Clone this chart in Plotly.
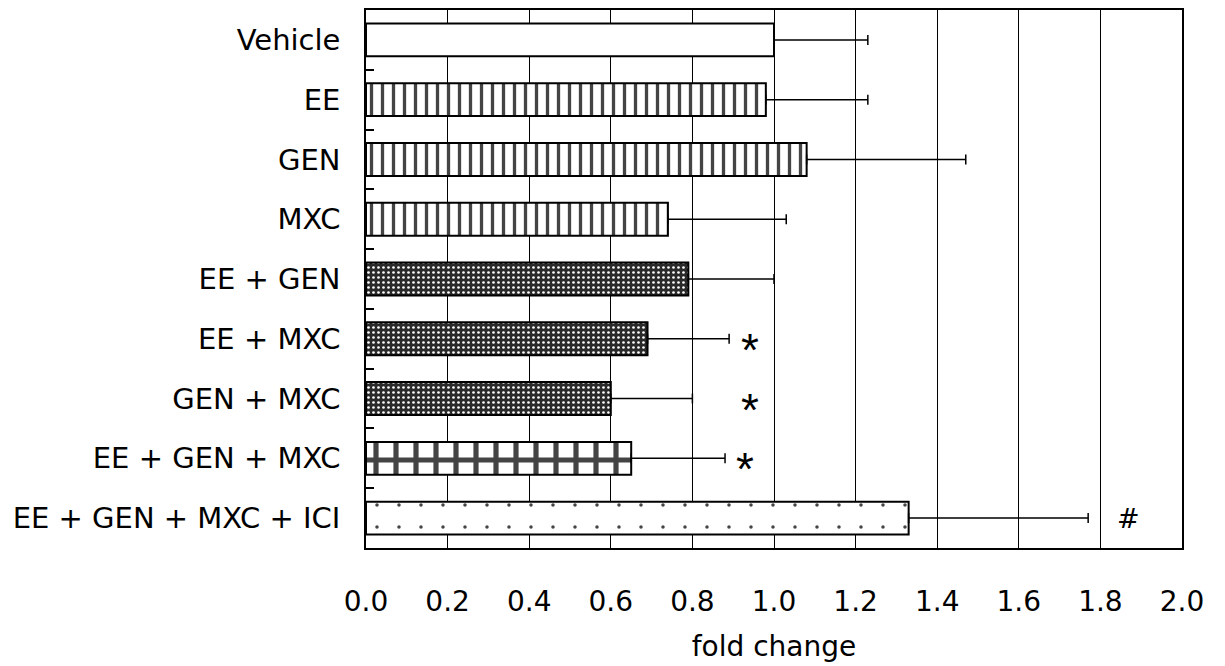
import plotly.graph_objects as go

categories = ["Vehicle", "EE", "GEN", "MXC", "EE + GEN", "EE + MXC",
              "GEN + MXC", "EE + GEN + MXC", "EE + GEN + MXC + ICI"]
fold_change = [1.00, 0.98, 1.08, 0.74, 0.79, 0.69, 0.60, 0.65, 1.33]
error_plus = [0.23, 0.25, 0.39, 0.29, 0.21, 0.20, 0.20, 0.23, 0.44]
x_ticks = [0.0, 0.2, 0.4, 0.6, 0.8, 1.0, 1.2, 1.4, 1.6, 1.8, 2.0]
star_rows = ["EE + MXC", "GEN + MXC", "EE + GEN + MXC"]
star_x = [0.94, 0.94, 0.93]
hash_row = "EE + GEN + MXC + ICI"
hash_x = 1.87

# per-bar fill styles
fill_color = ["white", "white", "white", "white", "#2a2a2a", "#2a2a2a", "#2a2a2a", "white", "white"]
pat_shape = ["", "|", "|", "|", ".", ".", ".", "+", "."]
pat_fg = ["black", "black", "black", "black", "#a0a0a0", "#a0a0a0", "#a0a0a0", "black", "black"]
pat_size = [8, 11, 11, 11, 5, 5, 5, 20, 22]
pat_solid = [0.2, 0.3, 0.3, 0.3, 0.22, 0.22, 0.22, 0.45, 0.02]

FONT = "DejaVu Sans"

fig = go.Figure()
fig.add_trace(go.Bar(
    y=categories, x=fold_change, orientation="h", width=0.55,
    marker=dict(color=fill_color, line=dict(color="black", width=2),
                pattern=dict(shape=pat_shape, fgcolor=pat_fg, size=pat_size,
                             solidity=pat_solid, fillmode="overlay", fgopacity=1)),
    error_x=dict(type="data", symmetric=False, array=error_plus,
                 arrayminus=[0] * len(error_plus),
                 color="black", thickness=1.5, width=5),
    showlegend=False,
))

annotations = []
for r, sx in zip(star_rows, star_x):
    annotations.append(dict(x=sx, y=r, xref="x", yref="y", text="*", showarrow=False,
                            font=dict(family="Liberation Sans", size=46, color="black"), yshift=-11))
annotations.append(dict(x=hash_x, y=hash_row, xref="x", yref="y", text="#", showarrow=False,
                        font=dict(family=FONT, size=27, color="black")))

# page body adds an 8px offset, so the figure is sized to compensate
fig.update_layout(
    width=1217, height=658,
    margin=dict(l=358, r=43, t=2, b=118, autoexpand=False),
    paper_bgcolor="white", plot_bgcolor="white",
    font=dict(family=FONT, size=28, color="black"),
    annotations=annotations,
    xaxis=dict(range=[0, 2.0], tickvals=x_ticks, tickformat=".1f",
               showgrid=True, gridcolor="black", gridwidth=1,
               showline=True, linecolor="black", linewidth=1.5, mirror=True,
               ticks="", zeroline=False, ticklabelstandoff=28, automargin=False,
               tickfont=dict(family=FONT, size=28),
               title=dict(text="fold change", font=dict(family=FONT, size=28), standoff=19)),
    yaxis=dict(categoryorder="array", categoryarray=categories, autorange="reversed",
               showline=True, linecolor="black", linewidth=1.5, mirror=True,
               ticks="inside", tickson="boundaries", ticklen=8, tickwidth=1.5,
               tickcolor="black", showgrid=False, ticklabelstandoff=18, automargin=False,
               tickfont=dict(family=FONT, size=29)),
)

fig.write_html("out.html")
